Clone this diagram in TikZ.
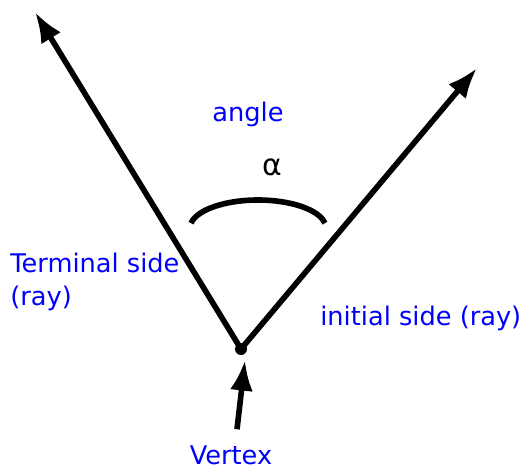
\documentclass[tikz,border=0pt]{standalone}
\usepackage{fontspec}
\setmainfont{DejaVu Sans}
\usepackage{tikz}
\usetikzlibrary{positioning, arrows.meta}

\begin{document}
\begin{tikzpicture}[x=0.02cm, y=-0.02cm, >={Latex[scale=1.0]}, lbl/.style={text=blue, font=\fontsize{14.6}{19}\selectfont}, ray/.style={line width=3.2pt}]
            \useasboundingbox (0,0) rectangle (524,471);
            \coordinate (v) at (241,349);
            \coordinate (term) at (35,12);
            \coordinate (init) at (477,68);
            \node[lbl] (vert) at (231,455) {Vertex};
            \coordinate (vtip) at (245,360);
            \node[lbl] (ang) at (248,114) {angle};
            \node[font=\fontsize{17}{20}\selectfont] (alpha) at (272,167) {α};
            \node[lbl, anchor=west, align=left, inner sep=0pt] (tside) at (10,282) {Terminal side\\(ray)};
            \node[lbl, anchor=west, inner sep=0pt] (iside) at (320,318) {initial side (ray)};

            \draw[->, ray] (v) -- (term);
            \draw[->, ray] (v) -- (init);
            \fill (v) circle (6);
            \draw[->, ray] (vert.north) ++(6,-10) coordinate (vbase) (vbase) -- (vtip);
            % arc for the angle
            \draw[ray] (258,228) ++(-170:68 and 28) arc[start angle=-170, end angle=-10, x radius=68, y radius=28];
        \end{tikzpicture}
\end{document}
